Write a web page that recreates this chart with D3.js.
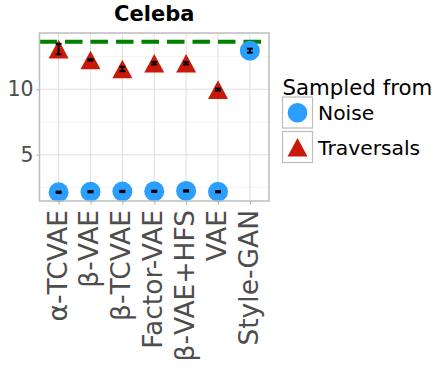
<!DOCTYPE html>
<html><head><meta charset="utf-8">
<script src="https://cdn.jsdelivr.net/npm/d3@7"></script>
<style>body{margin:0;background:#fff}svg{display:block;font-family:"DejaVu Sans",sans-serif}</style>
</head><body><svg id="c" width="440" height="372"></svg>
<script>
const models = ["α-TCVAE","β-VAE","β-TCVAE","Factor-VAE","β-VAE+HFS","VAE","Style-GAN"];
const noiseModels = ["α-TCVAE","β-VAE","β-TCVAE","Factor-VAE","β-VAE+HFS","VAE","Style-GAN"];
const noiseMean = [2.13,2.17,2.19,2.2,2.23,2.17,12.95];
const noiseErr = [0.05,0.05,0.05,0.05,0.05,0.05,0.15];
const travModels = ["α-TCVAE","β-VAE","β-TCVAE","Factor-VAE","β-VAE+HFS","VAE"];
const travMean = [13.07,12.24,11.55,11.99,11.99,9.97];
const travErr = [0.4,0.05,0.17,0.1,0.1,0.08];
const refLine = 13.64;
const yTicks = [5,10];
const yMinor = [2.5,7.5,12.5];
const title = "Celeba";
const legendTitle = "Sampled from";
const legendLabels = ["Noise","Traversals"];

const BLUE="#2B9FFF", RED="#C91A09", GREEN="#008000";
const svg=d3.select("#c");
const L=39.5,R=269,T=33,B=201;
const x=d3.scalePoint().domain(models).range([L,R]).padding(0.6);
const y=d3.scaleLinear().domain([1.46,14.3]).range([B,T]);

// grid
const g=svg.append("g");
g.selectAll(".mn").data(yMinor).join("line").attr("x1",L).attr("x2",R)
 .attr("y1",d=>y(d)).attr("y2",d=>y(d)).attr("stroke","#EFEFEF").attr("stroke-width",0.7);
g.selectAll(".mj").data(yTicks).join("line").attr("x1",L).attr("x2",R)
 .attr("y1",d=>y(d)).attr("y2",d=>y(d)).attr("stroke","#E0E0E0").attr("stroke-width",1.1);
g.selectAll(".vx").data(models).join("line").attr("x1",d=>x(d)).attr("x2",d=>x(d))
 .attr("y1",T).attr("y2",B).attr("stroke","#E0E0E0").attr("stroke-width",1.1);

// ref line
svg.append("line").attr("x1",L).attr("x2",R).attr("y1",y(refLine)).attr("y2",y(refLine))
 .attr("stroke",GREEN).attr("stroke-width",4).attr("stroke-dasharray","17.5,8");

// noise points
svg.selectAll(".np").data(noiseModels).join("circle")
 .attr("cx",d=>x(d)).attr("cy",(d,i)=>y(noiseMean[i])).attr("r",10).attr("fill",BLUE);
// traversal triangles
const tri=(cx,cy)=>`M${cx},${cy-9.3}L${cx+10},${cy+9.3}L${cx-10},${cy+9.3}Z`;
svg.selectAll(".tp").data(travModels).join("path")
 .attr("d",(d,i)=>tri(x(d),y(travMean[i]))).attr("fill",RED);

// error bars
function ebars(ms,mean,err){
  ms.forEach((m,i)=>{
    const cx=x(m), y1=y(mean[i]+err[i]), y2=y(mean[i]-err[i]);
    const e=svg.append("g").attr("stroke","#000").attr("stroke-width",2);
    e.append("line").attr("x1",cx).attr("x2",cx).attr("y1",y1).attr("y2",y2);
    e.append("line").attr("x1",cx-3).attr("x2",cx+3).attr("y1",y1).attr("y2",y1);
    e.append("line").attr("x1",cx-3).attr("x2",cx+3).attr("y1",y2).attr("y2",y2);
  });
}
ebars(noiseModels,noiseMean,noiseErr);
ebars(travModels,travMean,travErr);

// border
svg.append("rect").attr("x",L).attr("y",T).attr("width",R-L).attr("height",B-T)
 .attr("fill","none").attr("stroke","#BDBDBD").attr("stroke-width",1.5);

// axes
const ya=svg.append("g").attr("transform",`translate(${L},0)`)
 .call(d3.axisLeft(y).tickValues(yTicks).tickSize(3).tickPadding(3));
ya.select(".domain").remove();
ya.selectAll("line").attr("stroke","#B3B3B3").attr("stroke-width",1.1);
ya.selectAll("text").attr("fill","#4D4D4D").style("font-size","20.5px").attr("font-family","DejaVu Sans");

const xa=svg.append("g").attr("transform",`translate(0,${B})`)
 .call(d3.axisBottom(x).tickSize(3.5).tickPadding(0));
xa.select(".domain").remove();
xa.selectAll("line").attr("stroke","#B3B3B3").attr("stroke-width",1.1);
xa.selectAll("text").attr("fill","#4D4D4D").style("font-size","26.5px").attr("font-family","DejaVu Sans")
 .attr("text-anchor","end").attr("transform","rotate(-90)").attr("x",-9).attr("y",0).attr("dy","0.28em");

// title
svg.append("text").attr("x",(L+R)/2).attr("y",20.7).attr("text-anchor","middle")
 .attr("font-weight","bold").style("font-size","21px").text(title);

// legend
const lg=svg.append("g");
lg.append("text").attr("x",282.5).attr("y",95).style("font-size","21.3px").text(legendTitle);
legendLabels.forEach((lab,i)=>{
  const by=97+i*34.5;
  lg.append("rect").attr("x",282.5).attr("y",by).attr("width",30).attr("height",31)
   .attr("fill","#fff").attr("stroke","#BDBDBD").attr("stroke-width",1.2);
  const cx=297.5, cy=by+15.8;
  if(i===0) lg.append("circle").attr("cx",cx).attr("cy",cy).attr("r",9.8).attr("fill",BLUE);
  else lg.append("path").attr("d",tri(cx,cy)).attr("fill",RED);
  lg.append("text").attr("x",318).attr("y",by+23).style("font-size","20.3px").text(lab);
});
</script></body></html>
